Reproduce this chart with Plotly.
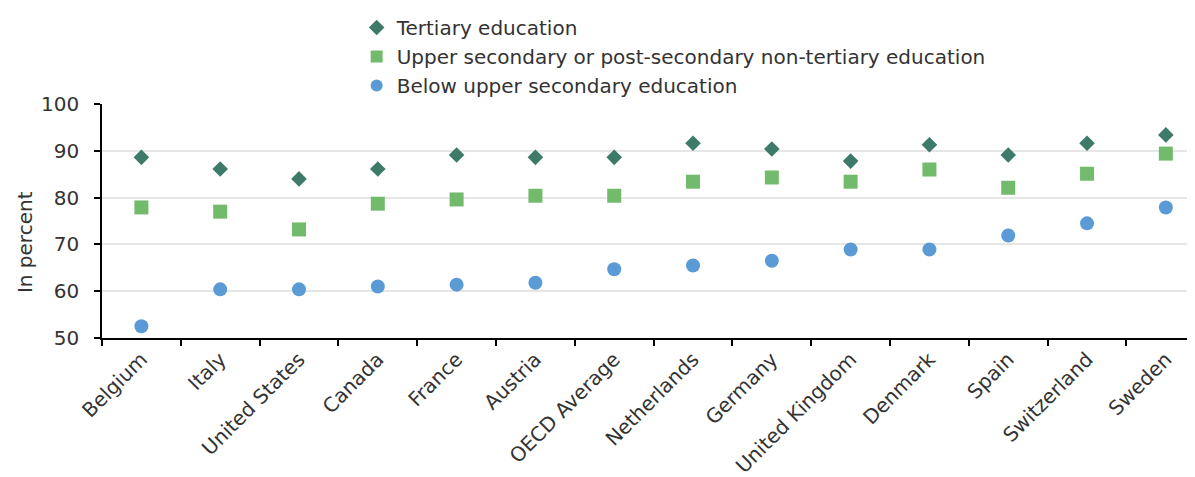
import plotly.graph_objects as go

countries = ["Belgium", "Italy", "United States", "Canada", "France", "Austria",
             "OECD Average", "Netherlands", "Germany", "United Kingdom", "Denmark",
             "Spain", "Switzerland", "Sweden"]
tertiary = [88.6, 86.1, 84.0, 86.1, 89.1, 88.6, 88.6, 91.6, 90.4, 87.8, 91.3, 89.1, 91.6, 93.4]
upper_secondary = [77.9, 77.0, 73.2, 78.7, 79.6, 80.4, 80.4, 83.4, 84.3, 83.4, 86.0, 82.1, 85.1, 89.4]
below_upper = [52.5, 60.4, 60.4, 61.0, 61.4, 61.8, 64.7, 65.5, 66.5, 68.9, 68.9, 71.9, 74.5, 77.9]
y_ticks = [50, 60, 70, 80, 90, 100]
y_title = "In percent"

FONT = "DejaVu Sans"
TXT = "#333333"

fig = go.Figure()
fig.add_trace(go.Scatter(x=countries, y=tertiary, mode="markers", name="Tertiary education",
                         marker=dict(symbol="diamond", size=12, color="#3E7A69")))
fig.add_trace(go.Scatter(x=countries, y=upper_secondary, mode="markers",
                         name="Upper secondary or post-secondary non-tertiary education",
                         marker=dict(symbol="square", size=14, color="#72BB6C")))
fig.add_trace(go.Scatter(x=countries, y=below_upper, mode="markers",
                         name="Below upper secondary education",
                         marker=dict(symbol="circle", size=14, color="#5B9BD5")))

fig.add_annotation(text=y_title, textangle=-90, xref="paper", yref="paper",
                   x=0, y=0.41, xanchor="center", yanchor="middle", xshift=-77,
                   showarrow=False, font=dict(family=FONT, size=20, color=TXT))

fig.update_layout(
    width=1187, height=469,
    margin=dict(l=94, r=0, t=96, b=139, autoexpand=False),
    paper_bgcolor="white", plot_bgcolor="white",
    font=dict(family=FONT, size=18, color=TXT),
    showlegend=True,
    legend=dict(x=0.233, y=1.0, xref="paper", yref="container", xanchor="left", yanchor="top",
                font=dict(family=FONT, size=20, color=TXT),
                bgcolor="rgba(0,0,0,0)", itemsizing="constant", tracegroupgap=0),
    xaxis=dict(type="category", range=[-0.5, 13.37], tickangle=-45,
               tickson="boundaries", ticks="outside", ticklen=6, tickwidth=1.5,
               tickcolor="black", showline=True, linecolor="black", linewidth=1.5,
               showgrid=False, tickfont=dict(family=FONT, size=20, color=TXT)),
    yaxis=dict(range=[50, 100], tickvals=y_ticks, ticks="outside", ticklen=6,
               tickwidth=1.5, tickcolor="black", showline=True, linecolor="black",
               linewidth=1.5, showgrid=True, gridcolor="#E6E6E6", gridwidth=2,
               zeroline=False, ticklabelstandoff=11,
               tickfont=dict(family=FONT, size=20, color=TXT)),
)

fig.write_html("out.html")
